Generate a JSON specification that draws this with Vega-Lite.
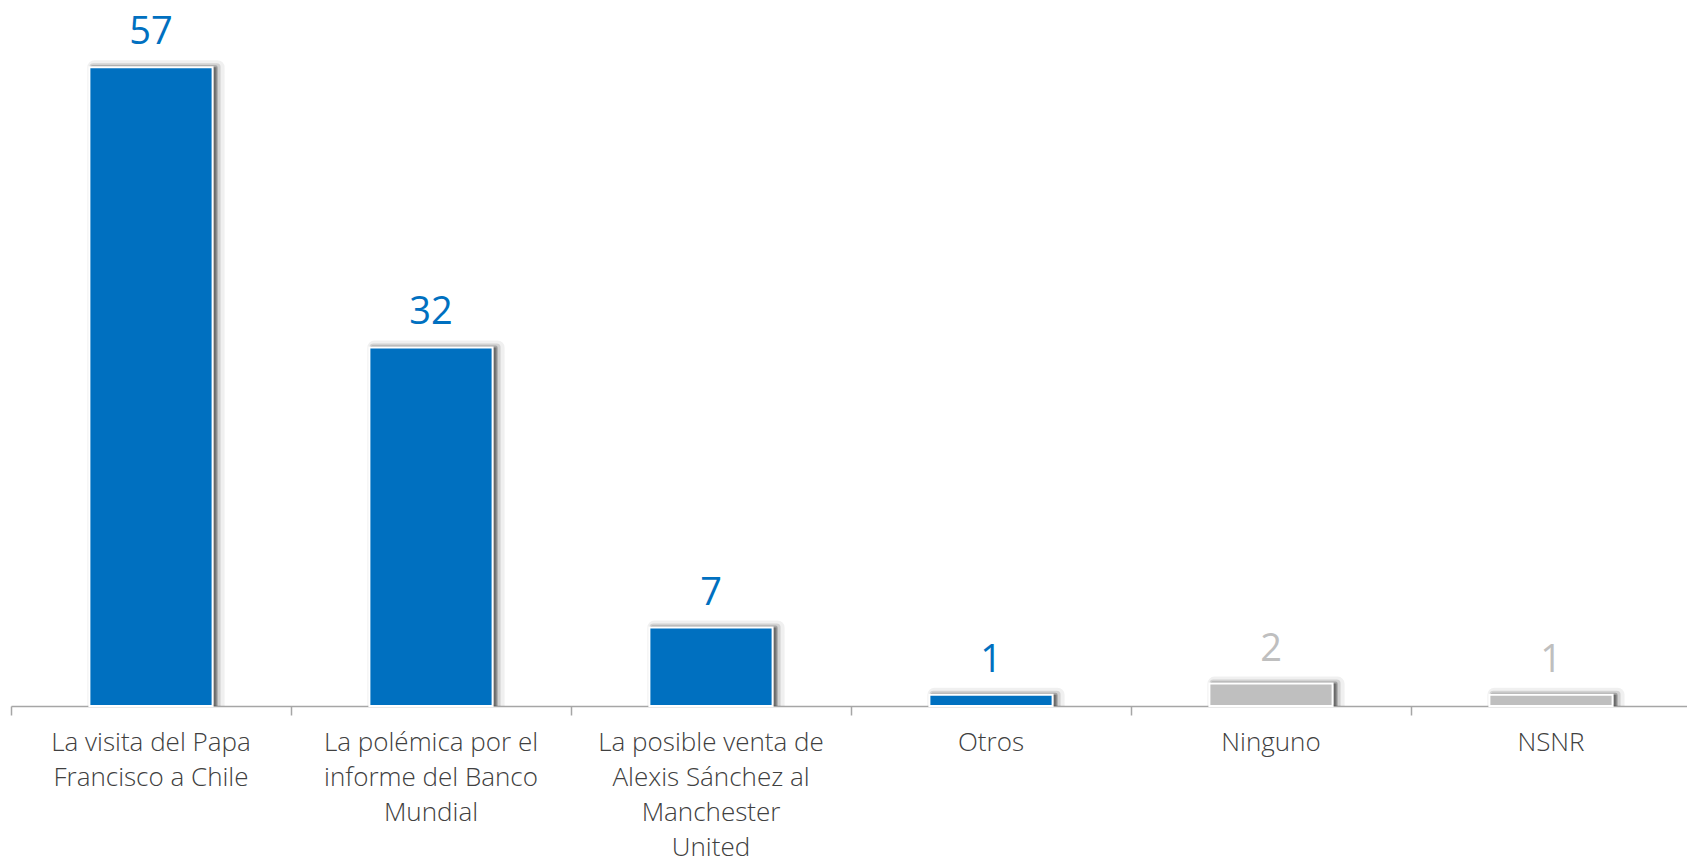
{
  "$schema": "https://vega.github.io/schema/vega-lite/v6.json",
  "autosize": "none",
  "width": 1680,
  "height": 706,
  "padding": {"left": 11, "top": 0, "right": 0, "bottom": 159},
  "background": "white",
  "config": {"view": {"stroke": null}, "font": "Open Sans"},
  "data": {"values": [
    {"tema": "La visita del Papa|Francisco a Chile", "valor": 57, "tipo": "tema"},
    {"tema": "La polémica por el|informe del Banco|Mundial", "valor": 32, "tipo": "tema"},
    {"tema": "La posible venta de|Alexis Sánchez al|Manchester|United", "valor": 7, "tipo": "tema"},
    {"tema": "Otros", "valor": 1, "tipo": "tema"},
    {"tema": "Ninguno", "valor": 2, "tipo": "otro"},
    {"tema": "NSNR", "valor": 1, "tipo": "otro"}
  ]},
  "encoding": {
    "x": {"field": "tema", "type": "nominal", "sort": null,
      "scale": {"paddingInner": 0, "paddingOuter": 0}},
    "y": {"field": "valor", "type": "quantitative", "scale": {"domain": [0, 63]}, "axis": null}
  },
  "layer": [
    {
      "mark": {"type": "bar", "width": {"band": 0.44}, "clip": true, "fill": "#000000", "fillOpacity": 0.06, "stroke": "#000000", "strokeOpacity": 0.06, "strokeWidth": 14, "xOffset": 5, "strokeJoin": "round"},
      "encoding": {"x": {"field": "tema", "type": "nominal", "sort": null, "axis": null}}
    },
    {
      "mark": {"type": "bar", "width": {"band": 0.44}, "clip": true, "fill": "#000000", "fillOpacity": 0.12, "stroke": "#000000", "strokeOpacity": 0.12, "strokeWidth": 8, "xOffset": 4, "strokeJoin": "round"},
      "encoding": {"x": {"field": "tema", "type": "nominal", "sort": null, "axis": null}}
    },
    {
      "mark": {"type": "bar", "width": {"band": 0.44}, "clip": true, "fill": "#000000", "fillOpacity": 0.22, "stroke": "#000000", "strokeOpacity": 0.22, "strokeWidth": 4, "xOffset": 3, "strokeJoin": "round"},
      "encoding": {"x": {"field": "tema", "type": "nominal", "sort": null, "axis": null}}
    },
    {
      "mark": {"type": "bar", "width": {"band": 0.44}, "stroke": "white", "strokeWidth": 2},
      "encoding": {
        "x": {"field": "tema", "type": "nominal", "sort": null,
          "axis": {"title": null, "orient": "bottom", "labelAngle": 0, "ticks": false, "domain": false,
            "labelExpr": "split(datum.value, '|')", "labelFontSize": 26, "labelColor": "#404040", "labelLimit": 400,
            "labelPadding": 23, "labelLineHeight": 35, "labelBaseline": "top", "labelFont": "Open Sans", "labelFontWeight": 300}},
        "color": {"field": "tipo", "type": "nominal", "scale": {"domain": ["tema", "otro"], "range": ["#0070C0", "#BFBFBF"]}, "legend": null}
      }
    },
    {
      "mark": {"type": "text", "dy": -15, "fontSize": 38, "baseline": "bottom", "font": "Open Sans"},
      "encoding": {
        "x": {"field": "tema", "type": "nominal", "sort": null,
          "axis": {"title": null, "orient": "bottom", "labels": false, "tickBand": "extent", "ticks": true, "tickSize": 9, "tickColor": "#A6A6A6", "domainColor": "#A6A6A6", "domainWidth": 1.5, "tickWidth": 1.5}},
        "text": {"field": "valor", "type": "quantitative"},
        "color": {"field": "tipo", "type": "nominal", "scale": {"domain": ["tema", "otro"], "range": ["#0070C0", "#BFBFBF"]}, "legend": null}
      }
    }
  ],
  "resolve": {"axis": {"x": "independent"}}
}
